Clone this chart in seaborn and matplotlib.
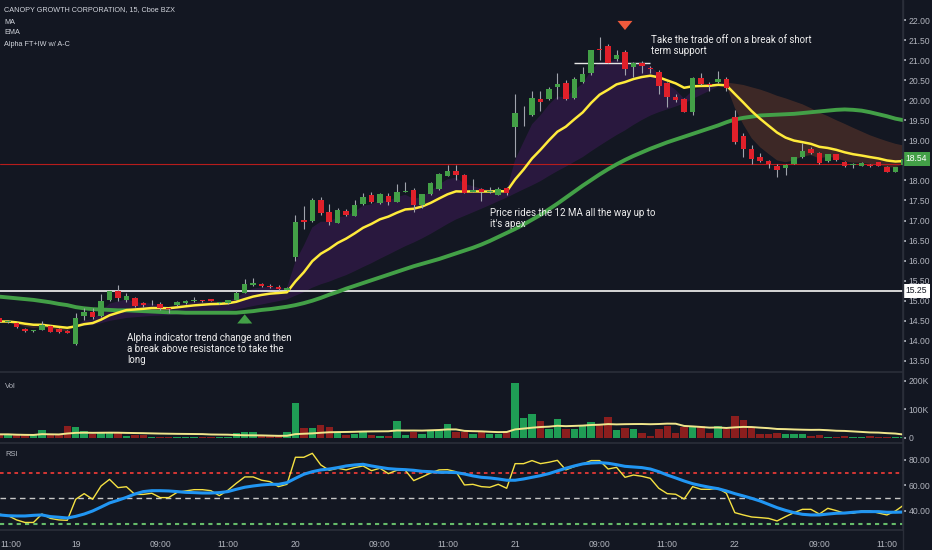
import numpy as np
import pandas as pd
import matplotlib
matplotlib.use("Agg")
import matplotlib.pyplot as plt
import matplotlib.transforms as mtransforms
from matplotlib.lines import Line2D
import seaborn as sns

# 15 minute candles, 18th 10:45 -> 22nd 11:30 (index 0..107)
opens = [14.56, 14.46, 14.45, 14.30, 14.25, 14.27, 14.38, 14.29, 14.25, 13.93,
         14.62, 14.73, 14.62, 15.02, 15.23, 15.03, 15.06, 14.94, 14.91, 14.92,
         14.80, 14.89, 14.94, 15.00, 15.00, 15.04, 14.94, 14.94, 15.03, 15.20,
         15.39, 15.42, 15.36, 15.33, 15.27, 16.10, 17.01, 16.99, 17.51, 17.22,
         16.95, 17.24, 17.12, 17.40, 17.64, 17.43, 17.62, 17.47, 17.72, 17.76,
         17.39, 17.66, 17.79, 18.12, 18.24, 18.13, 17.72, 17.78, 17.71, 17.64,
         17.80, 19.34, 19.62, 19.62, 20.02, 20.02, 20.32, 20.43, 20.05, 20.46,
         20.67, 21.27, 21.35, 21.02, 21.19, 20.82, 20.92, 20.80, 20.71, 20.44,
         20.09, 20.02, 19.71, 20.55, 20.39, 20.46, 20.52, 19.59, 19.11, 18.78,
         18.59, 18.49, 18.36, 18.30, 18.41, 18.59, 18.78, 18.68, 18.49, 18.65,
         18.47, 18.38, 18.36, 18.38, 18.45, 18.33, 18.22, 18.38]
highs = [14.58, 14.51, 14.47, 14.31, 14.28, 14.50, 14.40, 14.33, 14.27, 14.70,
         14.81, 14.81, 15.17, 15.25, 15.38, 15.18, 15.08, 14.96, 15.03, 14.98,
         14.81, 14.99, 15.02, 15.10, 15.01, 15.05, 14.96, 15.03, 15.25, 15.53,
         15.56, 15.44, 15.42, 15.40, 15.33, 17.14, 17.36, 17.55, 17.59, 17.41,
         17.31, 17.28, 17.51, 17.69, 17.72, 17.68, 17.68, 17.90, 17.97, 17.80,
         17.67, 17.97, 18.18, 18.38, 18.38, 18.16, 18.03, 17.80, 17.84, 17.83,
         17.83, 20.15, 19.86, 20.24, 20.24, 20.34, 20.67, 20.51, 20.59, 20.84,
         21.25, 21.58, 21.40, 21.25, 21.24, 20.96, 20.99, 20.85, 20.75, 20.46,
         20.16, 20.05, 20.57, 20.67, 20.46, 20.73, 20.58, 19.76, 19.18, 18.88,
         18.69, 18.52, 18.41, 18.41, 18.59, 18.93, 18.83, 18.70, 18.66, 18.67,
         18.49, 18.43, 18.46, 18.41, 18.47, 18.35, 18.34, 18.56]
lows = [14.46, 14.44, 14.32, 14.22, 14.23, 14.26, 14.21, 14.20, 14.19, 13.90,
        14.52, 14.54, 14.60, 15.00, 15.00, 14.98, 14.84, 14.85, 14.89, 14.77,
        14.70, 14.87, 14.92, 14.96, 14.98, 14.99, 14.92, 14.93, 15.02, 15.18,
        15.37, 15.35, 15.32, 15.27, 15.26, 15.99, 16.78, 16.97, 17.14, 16.89,
        16.93, 17.10, 17.10, 17.38, 17.43, 17.41, 17.39, 17.45, 17.70, 17.22,
        17.30, 17.64, 17.76, 18.10, 18.01, 17.68, 17.71, 17.49, 17.68, 17.63,
        17.64, 18.59, 19.36, 19.60, 19.74, 20.00, 20.02, 20.00, 20.02, 20.42,
        20.63, 21.00, 20.92, 20.98, 20.63, 20.59, 20.67, 20.69, 20.15, 19.82,
        19.96, 19.71, 19.63, 20.38, 20.24, 20.42, 20.24, 18.92, 18.59, 18.42,
        18.47, 18.30, 18.08, 18.14, 18.40, 18.57, 18.65, 18.41, 18.47, 18.49,
        18.34, 18.30, 18.35, 18.34, 18.36, 18.21, 18.21, 18.36]
closes = [14.48, 14.49, 14.34, 14.24, 14.26, 14.39, 14.23, 14.21, 14.20, 14.56,
          14.71, 14.59, 15.00, 15.23, 15.06, 15.12, 14.87, 14.89, 14.92, 14.81,
          14.79, 14.96, 15.00, 15.01, 14.99, 15.00, 14.95, 15.02, 15.18, 15.41,
          15.45, 15.37, 15.35, 15.28, 15.31, 16.97, 16.97, 17.51, 17.18, 16.97,
          17.25, 17.14, 17.39, 17.59, 17.45, 17.66, 17.47, 17.72, 17.73, 17.39,
          17.66, 17.93, 18.15, 18.23, 18.13, 17.69, 17.76, 17.70, 17.72, 17.79,
          17.68, 19.67, 19.63, 20.06, 19.96, 20.29, 20.40, 20.03, 20.53, 20.65,
          21.24, 21.26, 20.94, 21.13, 20.77, 20.94, 20.86, 20.79, 20.35, 20.07,
          20.01, 19.71, 20.55, 20.40, 20.38, 20.52, 20.30, 18.97, 18.78, 18.53,
          18.49, 18.41, 18.26, 18.38, 18.58, 18.74, 18.68, 18.43, 18.65, 18.51,
          18.36, 18.39, 18.44, 18.37, 18.36, 18.22, 18.33, 18.54]

# slow MA (green line)
ma_slow = [15.10, 15.08, 15.06, 15.04, 15.02, 14.99, 14.96, 14.92, 14.89, 14.84,
           14.81, 14.79, 14.78, 14.77, 14.76, 14.76, 14.75, 14.74, 14.73, 14.72,
           14.71, 14.71, 14.70, 14.70, 14.70, 14.70, 14.70, 14.70, 14.70, 14.72,
           14.74, 14.77, 14.79, 14.82, 14.85, 14.89, 14.94, 15.00, 15.07, 15.15,
           15.22, 15.30, 15.37, 15.44, 15.51, 15.58, 15.65, 15.72, 15.79, 15.86,
           15.92, 15.98, 16.04, 16.11, 16.18, 16.25, 16.32, 16.40, 16.49, 16.59,
           16.69, 16.79, 16.90, 17.02, 17.14, 17.28, 17.42, 17.57, 17.72, 17.87,
           18.01, 18.15, 18.28, 18.40, 18.51, 18.61, 18.70, 18.79, 18.87, 18.95,
           19.02, 19.09, 19.16, 19.23, 19.30, 19.37, 19.45, 19.52, 19.56, 19.59,
           19.62, 19.63, 19.64, 19.65, 19.66, 19.68, 19.70, 19.72, 19.74, 19.76,
           19.77, 19.76, 19.74, 19.70, 19.65, 19.60, 19.54, 19.50]

# volume in thousands
volume = [11.8, 11.8, 8.2, 8.2, 8.2, 27.0, 8.2, 8.2, 41.0, 37.6,
          23.5, 11.8, 21.0, 21.0, 15.3, 7.0, 8.2, 8.2, 2.4, 1.2,
          2.4, 2.4, 2.4, 2.4, 0.8, 0.8, 0.8, 2.4, 16.5, 19.5,
          19.5, 5.9, 5.9, 5.9, 21.0, 123.5, 35.0, 33.0, 44.7, 37.6,
          15.3, 10.6, 14.0, 21.0, 9.4, 5.9, 5.9, 59.0, 10.6, 21.0,
          14.0, 27.0, 27.0, 47.0, 21.0, 21.0, 14.0, 21.0, 14.0, 14.0,
          23.5, 194.0, 70.6, 82.0, 59.0, 32.0, 67.0, 32.0, 29.0, 43.5,
          55.0, 47.0, 72.0, 26.0, 35.0, 29.0, 17.6, 6.0, 29.0, 41.0,
          17.6, 37.6, 37.6, 41.0, 15.0, 41.0, 32.0, 76.0, 61.0, 33.0,
          12.0, 12.0, 15.0, 14.0, 12.0, 12.0, 6.0, 10.6, 1.2, 2.4,
          4.7, 2.4, 2.4, 4.7, 3.5, 3.5, 2.4, 3.5]

rsi = [37.4, 36.3, 33.0, 31.0, 31.0, 37.6, 34.2, 33.0, 32.7, 49.2,
       53.6, 49.2, 59.6, 64.8, 58.3, 59.0, 53.0, 53.0, 53.9, 50.5,
       50.5, 54.6, 55.7, 56.7, 56.7, 55.9, 52.0, 56.2, 61.7, 66.7,
       66.7, 64.1, 63.0, 59.1, 60.9, 82.1, 82.1, 85.2, 76.1, 71.9,
       73.5, 72.2, 74.0, 75.3, 71.6, 73.5, 69.3, 71.9, 71.9, 63.8,
       66.7, 69.8, 72.2, 72.4, 70.8, 60.4, 60.9, 59.1, 58.6, 60.9,
       57.8, 77.1, 77.1, 79.5, 77.1, 78.2, 79.7, 72.2, 74.8, 76.9,
       79.5, 79.5, 72.9, 74.2, 66.4, 68.2, 67.2, 65.6, 57.8, 53.6,
       53.1, 49.4, 59.1, 57.0, 57.0, 57.8, 53.9, 38.7, 36.9, 35.3,
       34.8, 34.2, 32.2, 35.6, 38.7, 41.3, 41.3, 37.6, 42.1, 40.3,
       38.2, 38.2, 40.0, 40.0, 38.4, 36.9, 40.0, 44.7]
rsi_ma = [36.9, 36.3, 36.1, 36.1, 36.6, 36.9, 35.6, 35.1, 34.5, 35.8,
          37.6, 40.0, 43.1, 46.3, 48.4, 50.7, 53.3, 55.2, 55.9, 55.9,
          55.7, 55.2, 54.6, 54.4, 54.1, 54.1, 54.4, 55.2, 57.0, 58.6,
          59.6, 60.4, 60.9, 60.9, 62.2, 65.6, 68.8, 70.8, 72.2, 72.9,
          74.0, 75.3, 76.1, 76.6, 75.3, 74.2, 73.2, 72.7, 72.4, 71.9,
          71.1, 70.8, 70.3, 70.3, 70.1, 69.0, 67.5, 66.4, 65.9, 65.1,
          64.1, 64.1, 65.1, 66.4, 67.7, 69.3, 71.4, 73.5, 75.3, 76.9,
          77.6, 77.9, 77.4, 76.3, 75.0, 74.5, 74.0, 72.9, 70.8, 68.2,
          65.9, 63.5, 61.4, 59.9, 58.6, 57.5, 55.7, 53.6, 51.8, 49.9,
          47.8, 45.2, 42.6, 40.5, 38.7, 37.4, 36.9, 36.9, 37.6, 38.2,
          38.4, 39.0, 39.5, 39.5, 39.5, 39.0, 39.0, 39.2]

tick_pos = [1.35, 9, 19, 27, 35, 45, 53, 61, 71, 79, 87, 97, 105]
tick_labels = ["11:00", "19", "09:00", "11:00", "20", "09:00", "11:00",
               "21", "09:00", "11:00", "22", "09:00", "11:00"]

BG = "#131722"
TXT = "#b2b5be"
LINE = "#2a2e39"

sns.set_theme(style="dark", rc={"axes.facecolor": BG, "figure.facecolor": BG,
                                "axes.edgecolor": LINE, "axes.grid": False})
plt.rcParams["font.family"] = ["Liberation Sans", "DejaVu Sans"]

df = pd.DataFrame({"open": opens, "high": highs, "low": lows,
                   "close": closes, "vol": volume})
df["i"] = np.arange(len(df))
up = df["close"] >= df["open"]
ema12 = df["close"].ewm(span=12, adjust=False).mean()
fast = df["close"].ewm(span=4, adjust=False).mean()
slow = df["close"].rolling(26, min_periods=1).mean()
vol_ma = df["vol"].rolling(20, min_periods=1).mean()

W, H = 932, 550
fig = plt.figure(figsize=(W / 100, H / 100), dpi=100)


def box(x0, y0, x1, y1):
    return [x0 / W, 1 - y1 / H, (x1 - x0) / W, (y1 - y0) / H]


ax = fig.add_axes(box(0, 0, 903, 372))
axv = fig.add_axes(box(0, 373, 903, 443), sharex=ax)
axr = fig.add_axes(box(0, 444, 903, 530), sharex=ax)

# alpha cloud
ax.fill_between(df["i"], fast, slow, where=fast >= slow, interpolate=True,
                color="#7b1fa2", alpha=0.22, lw=0, zorder=1)
ax.fill_between(df["i"], fast, slow, where=fast < slow, interpolate=True,
                color="#8d4a2f", alpha=0.35, lw=0, zorder=1)

# reference lines
ax.axhline(18.40, color="#b71c1c", lw=0.8, zorder=2)
ax.axhline(15.25, color="#e6e6e6", lw=1.3, zorder=2)
ax.hlines(20.94, 68, 77, color="#e6e6e6", lw=1.0, zorder=4)

sns.lineplot(x=df["i"], y=ma_slow, ax=ax, color="#43a047", linewidth=2.8, zorder=3)
sns.lineplot(x=df["i"], y=ema12, ax=ax, color="#ffeb3b", linewidth=1.8, zorder=3)

# candles
body_col = np.where(up, "#43a047", "#e0202a")
ax.vlines(df["i"], df["low"], df["high"], color="#a0a4ad", lw=0.8, zorder=4)
body = (df["close"] - df["open"]).abs().clip(lower=0.02)
ax.bar(df["i"], body, bottom=df[["open", "close"]].min(axis=1), width=0.65,
       color=body_col, lw=0, zorder=5)

# arrows
ax.annotate("", xy=(29, 14.73), xytext=(29, 14.36),
            arrowprops=dict(arrowstyle="simple,head_length=0.55,head_width=0.9,tail_width=0.4",
                            color="#43a047", lw=0), zorder=6)
ax.annotate("", xy=(74, 21.68), xytext=(74, 22.00),
            arrowprops=dict(arrowstyle="simple,head_length=0.55,head_width=0.9,tail_width=0.4",
                            color="#f05a3c", lw=0), zorder=6)

ax.set_ylim(13.222, 22.499)
ax.set_xlim(0.04, 106.9)
ax.set_yticks(np.arange(13.5, 22.01, 0.5)[[k for k in range(18) if k != 10]])
ax.yaxis.set_major_formatter(matplotlib.ticker.FormatStrFormatter("%.2f"))

# volume
vcol = np.where(up, "#1f9d55", "#8b1e1e")
axv.bar(df["i"], df["vol"], width=0.88, color=vcol, lw=0)
sns.lineplot(x=df["i"], y=vol_ma, ax=axv, color="#f0e68c", linewidth=1.4)
axv.set_ylim(-18.7, 227.8)
axv.set_yticks([0, 100, 200])
axv.set_yticklabels(["0", "100K", "200K"])

# RSI
axr.axhline(70, color="#e53935", lw=1.3, dashes=(2, 2))
axr.axhline(50, color="#c8c8c8", lw=1.0, dashes=(4, 3))
axr.axhline(30, color="#66bb6a", lw=1.5, dashes=(2, 2))
sns.lineplot(x=df["i"], y=rsi, ax=axr, color="#f5e142", linewidth=1.0)
sns.lineplot(x=df["i"], y=rsi_ma, ax=axr, color="#2196f3", linewidth=2.2)
axr.set_ylim(25.1, 92.5)
axr.set_yticks([40, 60, 80])
axr.yaxis.set_major_formatter(matplotlib.ticker.FormatStrFormatter("%.2f"))
axr.set_xticks(tick_pos)
axr.set_xticklabels(tick_labels)

for a in (ax, axv, axr):
    a.set_xlabel("")
    a.set_ylabel("")
    a.yaxis.tick_right()
    a.tick_params(axis="y", colors=TXT, labelsize=6.2, length=2, pad=2)
    for s in ("left", "top"):
        a.spines[s].set_visible(False)
    a.spines["right"].set_color(LINE)
    a.spines["bottom"].set_color(LINE)
for a in (ax, axv):
    a.tick_params(axis="x", bottom=False, labelbottom=False)
axr.tick_params(axis="x", colors=TXT, labelsize=6.2, length=0, pad=7)

fig.add_artist(Line2D([903 / W, 903 / W], [0, 1], color=LINE, lw=1))

# price labels on the scale
trans = mtransforms.blended_transform_factory(ax.transAxes, ax.transData)
ax.text(1.003, 18.54, "18.54", transform=trans, color="white", fontsize=6.2,
        va="center", ha="left", clip_on=False, zorder=10,
        bbox=dict(boxstyle="square,pad=0.3", fc="#43a047", ec="none"))
ax.text(1.003, 15.25, "15.25", transform=trans, color="#131722", fontsize=6.2,
        va="center", ha="left", clip_on=False, zorder=10,
        bbox=dict(boxstyle="square,pad=0.3", fc="white", ec="none"))


def ftext(x, y, s, **kw):
    fig.text(x / W, 1 - y / H, s, **kw)


hdr = dict(color="#d1d4dc", fontsize=5.2, va="center", ha="left")
ftext(4, 10, "CANOPY GROWTH CORPORATION, 15, Cboe BZX", **hdr)
ftext(4, 22, "MA", **hdr)
ftext(4, 33, "EMA", **hdr)
ftext(4, 45, "Alpha FT+IW w/ A-C", **hdr)
ftext(5, 386, "Vol", color=TXT, fontsize=5.5, va="center", ha="left")
ftext(5, 455, "RSI", color=TXT, fontsize=5.5, va="center", ha="left")

note = dict(color="#eeeeee", fontsize=7, va="top", ha="left",
            family=["Roboto", "DejaVu Sans"], linespacing=1.15)
ftext(651, 35, "Take the trade off on a break of short\nterm support", **note)
ftext(490, 208, "Price rides the 12 MA all the way up to\nit's apex", **note)
ftext(127, 333, "Alpha indicator trend change and then\na break above resistance to take the\nlong", **note)

fig.savefig("out.png", dpi=100, facecolor=BG)
